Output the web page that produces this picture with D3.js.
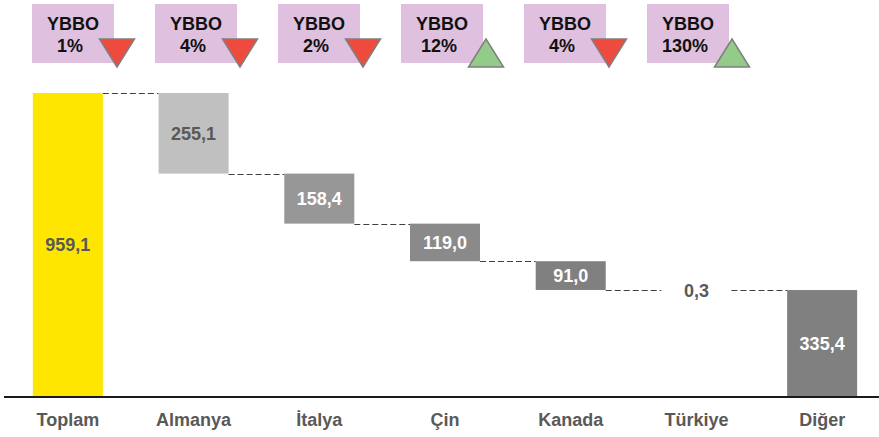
<!DOCTYPE html>
<html>
<head>
<meta charset="utf-8">
<script src="https://cdn.jsdelivr.net/npm/d3@7"></script>
<style>
  html, body { margin: 0; padding: 0; background: #fff; }
  svg { display: block; font-family: "Liberation Sans", Arial, sans-serif; }
</style>
</head>
<body>
<svg id="chart" width="879" height="437"></svg>
<script>
// ---- data ----
const categories = ["Toplam", "Almanya", "İtalya", "Çin", "Kanada", "Türkiye", "Diğer"];
const values = [959.1, 255.1, 158.4, 119.0, 91.0, 0.3, 335.4];
const barKinds = ["total", "light", "mid", "mid2", "dark", "dark", "dark"];
const ybboLabels = ["1%", "4%", "2%", "12%", "4%", "130%"];
const ybboDirections = ["down", "down", "down", "up", "down", "up"];

// ---- layout ----
const W = 879, H = 437;
const baseY = 396, topY = 93;
const svg = d3.select("#chart");

const x = d3.scaleBand()
  .domain(categories)
  .range([5, 885])
  .paddingInner(0.443)
  .paddingOuter(0.2215);

const y = d3.scaleLinear().domain([0, values[0]]).range([baseY, topY]);

const fills = { total: "#FFE600", light: "#C0C0C0", mid: "#979797", mid2: "#8A8A8A", dark: "#808080" };
const labelColors = { total: "#595959", light: "#595959", mid: "#fff", mid2: "#fff", dark: "#fff" };

// compute waterfall segments
const segs = [];
let running = values[0];
categories.forEach((c, i) => {
  if (i === 0 || i === categories.length - 1) {
    segs.push({ cat: c, v: values[i], top: values[i], bottom: 0, kind: barKinds[i] });
  } else {
    segs.push({ cat: c, v: values[i], top: running, bottom: running - values[i], kind: barKinds[i] });
    running -= values[i];
  }
});

// connectors
const conn = svg.append("g");
for (let i = 0; i < segs.length - 1; i++) {
  const level = i === 0 ? segs[0].top : segs[i].bottom;
  const yy = Math.round(y(level)) + 0.5;
  conn.append("line")
    .attr("x1", x(segs[i].cat) + x.bandwidth())
    .attr("x2", x(segs[i + 1].cat))
    .attr("y1", yy).attr("y2", yy)
    .attr("stroke", "#404040")
    .attr("stroke-width", 1)
    .attr("stroke-dasharray", "6,3");
}

// bars
svg.append("g").selectAll("rect")
  .data(segs.filter(d => d.v >= 1))
  .join("rect")
  .attr("x", d => x(d.cat))
  .attr("width", x.bandwidth())
  .attr("y", d => y(d.top))
  .attr("height", d => y(d.bottom) - y(d.top))
  .attr("fill", d => fills[d.kind]);

// value labels
const fmt = v => v.toFixed(1).replace(".", ",");
svg.append("g").selectAll("text")
  .data(segs)
  .join("text")
  .attr("x", d => x(d.cat) + x.bandwidth() / 2)
  .attr("y", d => (y(d.top) + y(d.bottom)) / 2)
  .attr("dy", "0.36em")
  .attr("text-anchor", "middle")
  .attr("font-size", 18)
  .attr("font-weight", "bold")
  .attr("fill", d => d.v < 1 ? "#595959" : labelColors[d.kind])
  .text(d => fmt(d.v));

// baseline
svg.append("line")
  .attr("x1", 4).attr("x2", W)
  .attr("y1", baseY + 1).attr("y2", baseY + 1)
  .attr("stroke", "#1a1a1a").attr("stroke-width", 2);

// category axis
const axis = svg.append("g")
  .attr("transform", `translate(0,${baseY + 1})`)
  .call(d3.axisBottom(x).tickSize(0).tickPadding(16));
axis.select(".domain").remove();
axis.selectAll("text")
  .attr("font-family", "Liberation Sans, Arial, sans-serif")
  .attr("font-size", 18)
  .attr("font-weight", "bold")
  .attr("fill", "#595959");

// YBBO annotations
const xa = d3.scaleLinear().domain([0, ybboLabels.length - 1]).range([32, 647]);
const boxW = 82, boxH = 59;
const ann = svg.append("g").selectAll("g")
  .data(ybboLabels.map((l, i) => ({ l, dir: ybboDirections[i], i })))
  .join("g")
  .attr("transform", d => `translate(${xa(d.i)},4)`);

ann.append("rect")
  .attr("width", boxW).attr("height", boxH)
  .attr("fill", "#DFC0DF");

ann.append("text")
  .attr("x", boxW / 2).attr("y", 26)
  .attr("text-anchor", "middle")
  .attr("font-size", 18).attr("font-weight", "bold").attr("fill", "#111")
  .text("YBBO");
ann.append("text")
  .attr("x", boxW / 2 - 3).attr("y", 48)
  .attr("text-anchor", "middle")
  .attr("font-size", 18).attr("font-weight", "bold").attr("fill", "#111")
  .text(d => d.l);

const tw = 35, th = 28, tcx = 85, ttop = 35;
ann.append("path")
  .attr("d", d => d.dir === "down"
    ? `M${tcx - tw / 2},${ttop} L${tcx + tw / 2},${ttop} L${tcx},${ttop + th} Z`
    : `M${tcx - tw / 2},${ttop + th} L${tcx + tw / 2},${ttop + th} L${tcx},${ttop} Z`)
  .attr("fill", d => d.dir === "down" ? "#EE4B3E" : "#93CB89")
  .attr("stroke", "#7F7F7F")
  .attr("stroke-width", 1.5)
  .attr("stroke-linejoin", "miter");
</script>
</body>
</html>
